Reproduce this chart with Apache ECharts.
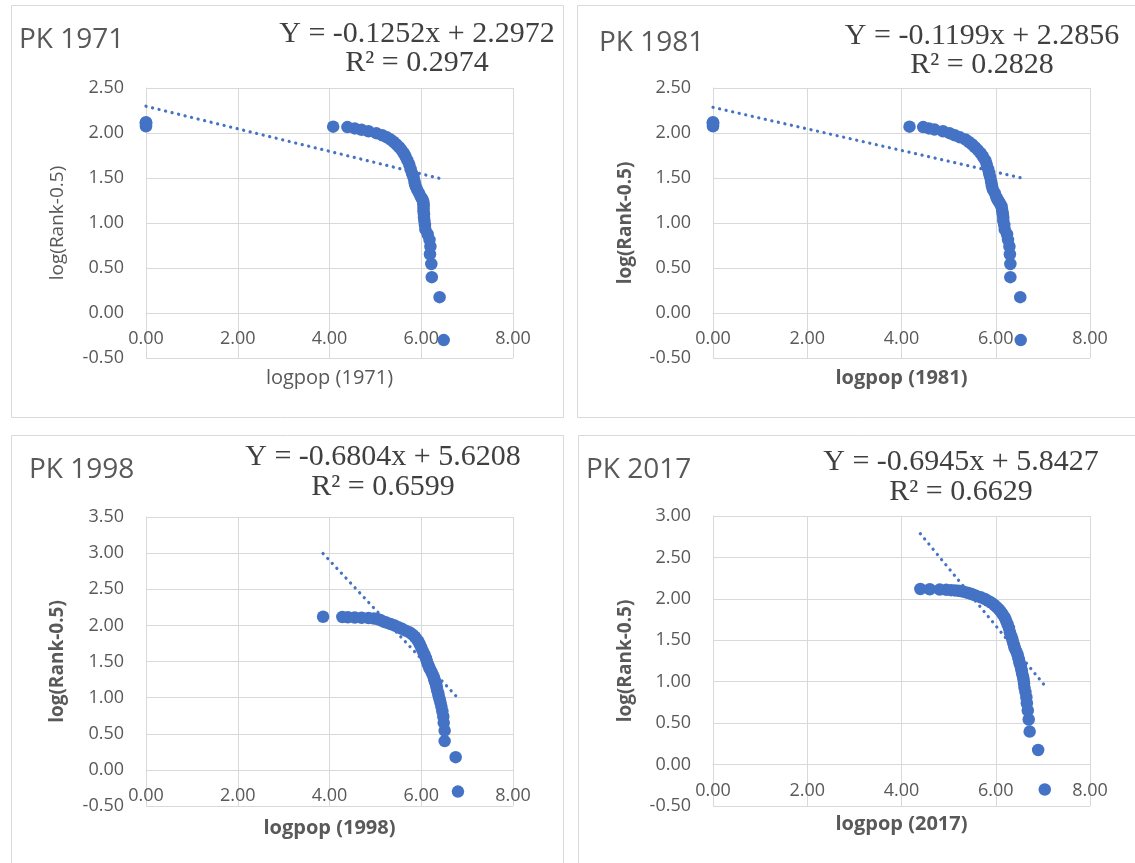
<!DOCTYPE html>
<html>
<head>
<meta charset="utf-8">
<script src="https://cdn.jsdelivr.net/npm/echarts@6/dist/echarts.min.js"></script>
<style>
html,body{margin:0;padding:0;background:#ffffff;}
#chart{width:1135px;height:863px;}
</style>
</head>
<body>
<div id="chart"></div>
<script>
// ---------------- DATA ----------------
const panelTitles = ['PK 1971', 'PK 1981', 'PK 1998', 'PK 2017'];
const xAxisTitles = ['logpop (1971)', 'logpop (1981)', 'logpop (1998)', 'logpop (2017)'];
const yAxisTitle = 'log(Rank-0.5)';
const trendSlopes = [-0.1252, -0.1199, -0.6804, -0.6945];
const trendIntercepts = [2.2972, 2.2856, 5.6208, 5.8427];
const r2Values = ['0.2974', '0.2828', '0.6599', '0.6629'];
const yAxisMax = [2.5, 2.5, 3.5, 3.0];
const yAxisMin = [-0.5, -0.5, -0.5, -0.5];
const xAxisMin = [0, 0, 0, 0];
const xAxisMax = [8, 8, 8, 8];

// [logpop, log(Rank-0.5)]
const pts1971 = [
  [6.49,-0.301],[6.40,0.176],[6.23,0.398],[6.22,0.544],[6.19,0.653],[6.20,0.740],[6.18,0.813],
  [6.14,0.875],[6.09,0.929],[6.08,0.978],[6.07,1.021],[6.06,1.061],[6.06,1.097],[6.05,1.130],
  [6.05,1.161],[6.05,1.190],[6.05,1.217],[6.04,1.243],[6.02,1.267],[5.99,1.290],[5.95,1.332],
  [5.91,1.371],[5.88,1.407],[5.86,1.439],[5.85,1.470],[5.83,1.512],[5.80,1.550],[5.77,1.597],
  [5.74,1.648],[5.70,1.695],[5.66,1.736],[5.62,1.775],[5.57,1.810],[5.52,1.842],[5.46,1.872],
  [5.40,1.900],[5.33,1.927],[5.25,1.952],[5.15,1.975],[5.02,1.998],[4.85,2.019],[4.70,2.035],
  [4.55,2.051],[4.39,2.066],[4.08,2.070],[0,2.074],[0,2.088],[0,2.102],[0,2.112],[0,2.119]
];
const pts1981 = [
  [6.53,-0.301],[6.52,0.176],[6.31,0.398],[6.31,0.544],[6.30,0.653],[6.29,0.740],[6.26,0.813],
  [6.24,0.875],[6.19,0.929],[6.18,0.978],[6.16,1.021],[6.16,1.061],[6.15,1.097],[6.14,1.130],
  [6.13,1.161],[6.12,1.190],[6.09,1.217],[6.06,1.243],[6.03,1.267],[6.01,1.290],[5.98,1.332],
  [5.94,1.371],[5.92,1.407],[5.91,1.439],[5.90,1.470],[5.88,1.512],[5.86,1.550],[5.84,1.597],
  [5.81,1.648],[5.78,1.695],[5.73,1.736],[5.68,1.775],[5.62,1.810],[5.56,1.842],[5.50,1.872],
  [5.43,1.900],[5.36,1.927],[5.24,1.952],[5.13,1.975],[5.02,1.998],[4.88,2.019],[4.70,2.039],
  [4.58,2.051],[4.46,2.066],[4.17,2.070],[0,2.074],[0,2.088],[0,2.102],[0,2.112],[0,2.119]
];
const pts1998 = [
  [6.80,-0.301],[6.75,0.176],[6.51,0.398],[6.51,0.544],[6.49,0.653],[6.48,0.740],[6.46,0.813],
  [6.44,0.875],[6.42,0.929],[6.40,0.978],[6.38,1.021],[6.37,1.061],[6.35,1.097],[6.34,1.130],
  [6.33,1.161],[6.32,1.190],[6.30,1.217],[6.29,1.243],[6.28,1.267],[6.27,1.290],[6.24,1.332],
  [6.21,1.371],[6.18,1.407],[6.16,1.439],[6.14,1.470],[6.12,1.512],[6.10,1.550],[6.07,1.597],
  [6.03,1.648],[6.00,1.695],[5.97,1.736],[5.94,1.775],[5.90,1.810],[5.86,1.842],[5.81,1.872],
  [5.75,1.900],[5.66,1.927],[5.58,1.952],[5.50,1.975],[5.42,1.998],[5.33,2.019],[5.24,2.039],
  [5.18,2.051],[5.12,2.070],[5.06,2.085],[4.97,2.095],[4.85,2.102],[4.70,2.105],[4.55,2.109],
  [4.40,2.112],[4.28,2.116],[3.86,2.119]
];
const pts2017 = [
  [7.04,-0.301],[6.90,0.176],[6.72,0.398],[6.70,0.544],[6.68,0.653],[6.66,0.740],[6.65,0.813],
  [6.63,0.875],[6.61,0.929],[6.60,0.978],[6.59,1.021],[6.58,1.061],[6.56,1.097],[6.55,1.130],
  [6.54,1.161],[6.53,1.190],[6.51,1.217],[6.50,1.243],[6.49,1.267],[6.48,1.290],[6.46,1.332],
  [6.43,1.371],[6.40,1.407],[6.39,1.439],[6.37,1.470],[6.35,1.512],[6.33,1.550],[6.30,1.597],
  [6.28,1.648],[6.25,1.695],[6.22,1.736],[6.19,1.775],[6.15,1.810],[6.11,1.842],[6.07,1.872],
  [6.02,1.900],[5.97,1.927],[5.91,1.952],[5.84,1.975],[5.77,1.998],[5.68,2.019],[5.58,2.039],
  [5.52,2.051],[5.47,2.062],[5.40,2.074],[5.32,2.085],[5.25,2.095],[5.20,2.099],[5.13,2.102],
  [5.05,2.105],[4.95,2.109],[4.81,2.112],[4.60,2.116],[4.40,2.119]
];
const panelData = [pts1971, pts1981, pts1998, pts2017];

// ---------------- LAYOUT / STYLE ----------------
const layout = [
  {grid:{left:146, top:88, width:367, height:270}, box:[11,5,552,412], title:[19,40], eq:[417,34,63], yGap:79, xGap:55, bold:false},
  {grid:{left:713, top:88, width:377, height:270}, box:[577,5,570,412], title:[599,43], eq:[982,36,65], yGap:78, xGap:55, bold:true},
  {grid:{left:146, top:517, width:367, height:289}, box:[11,435,552,440], title:[29,470], eq:[383,457,487], yGap:79, xGap:48, bold:true},
  {grid:{left:713, top:516, width:377, height:290}, box:[578,435,570,440], title:[586,470], eq:[961,462,492], yGap:78, xGap:50, bold:true}
];
const BLUE = '#4472C4';
const GRID_C = '#d9d9d9';
const TXT = '#595959';
const SANS = '"Open Sans", "Noto Sans", sans-serif';
const SERIF = '"Liberation Serif", "DejaVu Serif", serif';
const fmt = v => v.toFixed(2);

const grids = [], xAxes = [], yAxes = [], series = [], graphics = [];
layout.forEach((L, i) => {
  grids.push(Object.assign({containLabel:false}, L.grid));
  // place the horizontal axis on the y = 0 line (as in Excel)
  const zeroOffset = -L.grid.height * (0 - yAxisMin[i]) / (yAxisMax[i] - yAxisMin[i]);
  xAxes.push({
    gridIndex:i, type:'value', min:xAxisMin[i], max:xAxisMax[i], interval:2,
    position:'bottom', offset:zeroOffset,
    axisLine:{show:true, onZero:false, lineStyle:{color:GRID_C, width:1}},
    axisTick:{show:false},
    axisLabel:{formatter:fmt, color:TXT, fontSize:18, fontFamily:SANS, margin:17},
    splitLine:{show:true, lineStyle:{color:GRID_C, width:1}},
    name:xAxisTitles[i], nameLocation:'middle', nameGap:L.xGap,
    nameTextStyle:{color:TXT, fontSize:20, fontFamily:SANS, fontWeight:L.bold?'bold':'normal'}
  });
  yAxes.push({
    gridIndex:i, type:'value', min:yAxisMin[i], max:yAxisMax[i], interval:0.5,
    axisLine:{show:true, onZero:false, lineStyle:{color:GRID_C, width:1}},
    axisTick:{show:false},
    axisLabel:{formatter:fmt, color:TXT, fontSize:18, fontFamily:SANS, margin:22},
    splitLine:{show:true, lineStyle:{color:GRID_C, width:1}},
    name:yAxisTitle, nameLocation:'middle', nameRotate:90, nameGap:L.yGap,
    nameTextStyle:{color:TXT, fontSize:19, fontFamily:SANS, fontWeight:L.bold?'bold':'normal'}
  });
  const pts = panelData[i];
  series.push({
    type:'scatter', xAxisIndex:i, yAxisIndex:i, data:pts, symbol:'circle', symbolSize:12.5,
    itemStyle:{color:BLUE, opacity:1}, z:2, silent:true
  });
  const xs = pts.map(p => p[0]);
  const x0 = Math.min(...xs), x1 = Math.max(...xs);
  series.push({
    type:'line', xAxisIndex:i, yAxisIndex:i, symbol:'none', showSymbol:false, silent:true, z:3,
    data:[[x0, trendSlopes[i]*x0 + trendIntercepts[i]], [x1, trendSlopes[i]*x1 + trendIntercepts[i]]],
    lineStyle:{color:BLUE, width:3.2, type:[0.1, 6.6], cap:'round'}
  });
  graphics.push({
    type:'rect', shape:{x:L.box[0]+0.5, y:L.box[1]+0.5, width:L.box[2], height:L.box[3]},
    style:{fill:'none', stroke:GRID_C, lineWidth:1}, silent:true, z:0
  });
  graphics.push({
    type:'text', x:L.title[0], y:L.title[1],
    style:{text:panelTitles[i], font:'28px ' + SANS, fill:TXT, textAlign:'left', align:'left', textVerticalAlign:'middle', verticalAlign:'middle'}
  });
  graphics.push({
    type:'text', x:L.eq[0], y:L.eq[1],
    style:{text:'Y = ' + trendSlopes[i].toFixed(4) + 'x + ' + trendIntercepts[i].toFixed(4), font:'30px ' + SERIF, fill:'#404040', textAlign:'center', align:'center', textVerticalAlign:'middle', verticalAlign:'middle'}
  });
  graphics.push({
    type:'text', x:L.eq[0], y:L.eq[2],
    style:{text:'R\u00B2 = ' + r2Values[i], font:'30px ' + SERIF, fill:'#404040', textAlign:'center', align:'center', textVerticalAlign:'middle', verticalAlign:'middle'}
  });
});

const chart = echarts.init(document.getElementById('chart'), null, {renderer:'canvas'});
chart.setOption({
  animation:false,
  backgroundColor:'#ffffff',
  grid:grids, xAxis:xAxes, yAxis:yAxes, series:series,
  graphic:{elements:graphics}
});
</script>
</body>
</html>
